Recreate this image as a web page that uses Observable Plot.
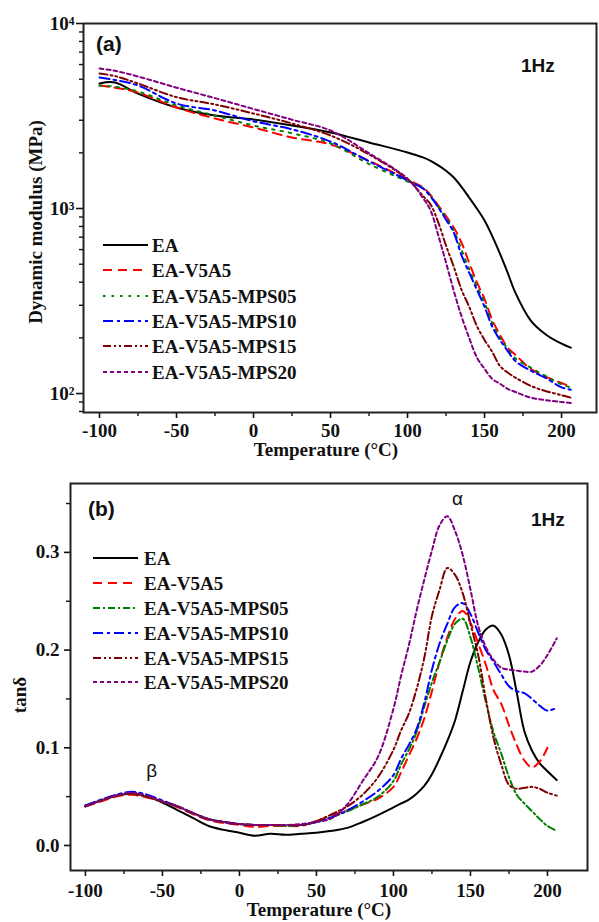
<!DOCTYPE html>
<html><head><meta charset="utf-8">
<script src="https://cdn.jsdelivr.net/npm/d3@7"></script>
<script src="https://cdn.jsdelivr.net/npm/@observablehq/plot@0.6"></script>
<style>
body{margin:0;background:#fff}
#wrap{position:relative;width:599px;height:922px;overflow:hidden;background:#fff}
#wrap > svg{position:absolute;left:0}
</style></head><body><div id="wrap"></div>
<script>
// ---------- series ----------
const seriesNames = ["EA","EA-V5A5","EA-V5A5-MPS05","EA-V5A5-MPS10","EA-V5A5-MPS15","EA-V5A5-MPS20"];
const seriesColors = ["#000000","#ff0000","#008000","#0000ff","#800000","#800080"];
const dashA = ["none","9,6","2.5,6","10,4,3,4","8,3,2,3,2,3","4,3"];
const dashB = ["none","9,6","7,3,2,3","10,4,3,4","8,3,2,3,2,3","4,3"];

// ---------- panel (a): dynamic modulus (MPa) ----------
const tempA = [-100,-90,-75,-50,-25,0,25,50,75,100,110,115,120,125,130,135,140,145,150,155,160,165,170,180,190,200,206];
const modEA     = [4740,4800,4180,3515,3180,3030,2810,2575,2275,2010,1890,1810,1710,1600,1470,1310,1147,1000,861,710,571,450,351,248,208,186,177];
const modV5A5   = [4623,4500,4236,3515,3066,2740,2420,2220,1810,1435,1300,1180,1038,910,789,655,510,400,325,250,208,177,162,136,123,114,109];
const modMPS05  = [4623,4550,4290,3610,3180,2810,2550,2250,1740,1400,1290,1170,1020,890,760,600,470,380,310,240,200,175,155,138,124,112,108];
const modMPS10  = [5107,4950,4623,3694,3385,2960,2680,2300,1800,1420,1283,1160,1012,870,742,560,450,365,295,230,195,170,150,133,121,108,105];
const modMPS15  = [5366,5200,4740,4000,3650,3262,2881,2481,1960,1440,1170,1050,840,630,485,365,295,232,195,168,141,130,122,110,103,98,95];
const modMPS20  = [5710,5550,5170,4500,3950,3450,3020,2640,1990,1450,1140,975,715,510,360,262,200,157,136,120,113,106,102,95,92,90,89];

// ---------- panel (b): tan delta ----------
const tempB = [-100,-90,-80,-70,-60,-50,-40,-30,-20,-10,0,10,20,30,40,50,60,70,80,90,100,105,110,115,120,125,130,135,140,145,150,155,160,165,170,175,180,185,190,195,200,206];
const tanEA    = [0.040,0.046,0.051,0.053,0.050,0.044,0.036,0.028,0.020,0.016,0.013,0.010,0.012,0.011,0.012,0.013,0.015,0.018,0.024,0.031,0.039,0.043,0.047,0.053,0.061,0.073,0.089,0.107,0.128,0.158,0.188,0.208,0.221,0.225,0.216,0.195,0.157,0.117,0.097,0.084,0.076,0.067];
const tanV5A5  = [0.040,0.045,0.050,0.052,0.049,0.045,0.039,0.032,0.026,0.023,0.021,0.019,0.020,0.020,0.020,0.025,0.031,0.036,0.042,0.048,0.060,0.075,0.092,0.109,0.130,0.158,0.188,0.213,0.232,0.240,0.228,0.207,0.185,0.159,0.145,0.123,0.103,0.087,0.080,0.086,0.100,null];
const tanMPS05 = [0.041,0.046,0.051,0.053,0.050,0.045,0.040,0.033,0.027,0.024,0.022,0.021,0.021,0.020,0.021,0.024,0.029,0.035,0.042,0.050,0.066,0.083,0.098,0.116,0.142,0.167,0.188,0.210,0.227,0.232,0.213,0.182,0.147,0.116,0.094,0.070,0.052,0.043,0.035,0.027,0.020,0.015];
const tanMPS10 = [0.041,0.047,0.052,0.055,0.052,0.046,0.040,0.033,0.027,0.024,0.022,0.021,0.021,0.021,0.021,0.024,0.029,0.036,0.045,0.056,0.072,0.089,0.103,0.119,0.146,0.180,0.207,0.227,0.244,0.248,0.237,0.218,0.200,0.188,0.175,0.163,0.158,0.156,0.150,0.143,0.138,0.141];
const tanMPS15 = [0.040,0.046,0.051,0.053,0.050,0.045,0.040,0.033,0.027,0.024,0.022,0.021,0.021,0.021,0.021,0.025,0.032,0.040,0.052,0.070,0.098,0.118,0.135,0.160,0.192,0.235,0.262,0.284,0.277,0.258,0.227,0.195,0.150,0.110,0.083,0.062,0.058,0.059,0.060,0.058,0.054,0.051];
const tanMPS20 = [0.040,0.046,0.051,0.054,0.051,0.045,0.040,0.033,0.027,0.024,0.022,0.021,0.021,0.021,0.022,0.024,0.028,0.042,0.066,0.091,0.140,0.174,0.205,0.240,0.272,0.302,0.328,0.337,0.322,0.297,0.262,0.225,0.203,0.190,0.182,0.180,0.179,0.178,0.178,0.184,0.195,0.212];

// ---------- ticks ----------
const xMajor = [-100,-50,0,50,100,150,200];
const xMinor = [-75,-25,25,75,125,175];
const yMajorA = [100,1000,10000];
const yLabelsA = ["10²","10³","10⁴"];
const yMinorA = [80,90,200,300,400,500,600,700,800,900,2000,3000,4000,5000,6000,7000,8000,9000];
const yMajorB = [0,0.1,0.2,0.3];
const yMinorB = [0.05,0.15,0.25,0.35];

// ---------- text ----------
const xTitle = "Temperature (°C)";
const yTitleA = "Dynamic modulus (MPa)";
const yTitleB = "tanδ";
const panelTags = ["(a)","(b)"];
const freqLabel = "1Hz";
const peakLabels = [{t:141.5, v:0.355, s:"α"},{t:-57, v:0.076, s:"β"}];

const modA = [modEA, modV5A5, modMPS05, modMPS10, modMPS15, modMPS20];
const tanB = [tanEA, tanV5A5, tanMPS05, tanMPS10, tanMPS15, tanMPS20];

const baseStyle = {fontFamily:"'Liberation Serif', 'Times New Roman', serif", fontSize:"19px", fontWeight:"bold", color:"#111", background:"#fff", overflow:"visible"};

const wrap = document.getElementById("wrap");

// Panel (a)
const plotA = Plot.plot({
  width: 599, height: 460,
  marginTop: 23, marginBottom: 48, marginLeft: 83, marginRight: 3,
  style: baseStyle,
  x: {domain: [-110.4, 222.7]},
  y: {type: "log", domain: [79, 10000]},
  marks: [
    ...seriesNames.map((n, i) => Plot.line(
      tempA.map((t, j) => ({t, v: modA[i][j]})),
      {x: "t", y: "v", stroke: seriesColors[i], strokeWidth: 2, strokeDasharray: dashA[i], curve: "catmull-rom"})),
    Plot.axisX({ticks: xMajor, tickSize: 6, tickPadding: 5, tickFormat: d => String(d), strokeWidth: 1.6, label: null}),
    Plot.axisX({ticks: xMinor, tickSize: 4, fill: "none", strokeWidth: 1.4, label: null}),
    Plot.axisY({ticks: yMajorA, tickSize: 7, tickPadding: 2, tickFormat: d => yLabelsA[yMajorA.indexOf(d)], strokeWidth: 1.6, label: null}),
    Plot.axisY({ticks: yMinorA, tickSize: 4, fill: "none", strokeWidth: 1.4, label: null}),
    Plot.frame({stroke: "#222", strokeWidth: 2})
  ]
});
plotA.style.top = "0px";
wrap.appendChild(plotA);

// Panel (b)
const plotB = Plot.plot({
  width: 599, height: 462,
  marginTop: 23, marginBottom: 52, marginLeft: 70, marginRight: 12,
  style: baseStyle,
  x: {domain: [-109.7, 226]},
  y: {domain: [-0.0256, 0.3705]},
  marks: [
    ...seriesNames.map((n, i) => Plot.line(
      tempB.map((t, j) => ({t, v: tanB[i][j]})),
      {x: "t", y: "v", stroke: seriesColors[i], strokeWidth: 2, strokeDasharray: dashB[i], curve: "catmull-rom"})),
    Plot.text(peakLabels, {x: "t", y: "v", text: "s", fontSize: 19, fontWeight: "normal", fontFamily: "'Liberation Sans', Arial, sans-serif", fill: "#111"}),
    Plot.axisX({ticks: xMajor, tickSize: 6, tickPadding: 7, tickFormat: d => String(d), strokeWidth: 1.6, label: null}),
    Plot.axisX({ticks: xMinor, tickSize: 4, fill: "none", strokeWidth: 1.4, label: null}),
    Plot.axisY({ticks: yMajorB, tickSize: 6, tickPadding: 5, tickFormat: d => d.toFixed(1), strokeWidth: 1.6, label: null}),
    Plot.axisY({ticks: yMinorB, tickSize: 4, fill: "none", strokeWidth: 1.4, label: null}),
    Plot.frame({stroke: "#222", strokeWidth: 2})
  ]
});
plotB.style.top = "460px";
wrap.appendChild(plotB);

// Overlay: titles, tags and legends
const ov = d3.select(wrap).append("svg")
  .attr("width", 599).attr("height", 922)
  .style("top", "0px").style("pointer-events", "none");
const serif = "'Liberation Serif', 'Times New Roman', serif";
const sans = "'Liberation Sans', Arial, sans-serif";

function txt(x, y, s, opts = {}) {
  const t = ov.append("text").attr("x", x).attr("y", y).text(s)
    .attr("font-family", opts.family || serif)
    .attr("font-size", opts.size || 19)
    .attr("font-weight", "bold")
    .attr("fill", "#111")
    .attr("text-anchor", opts.anchor || "start");
  if (opts.rotate) t.attr("transform", `rotate(-90 ${x} ${y})`);
  if (opts.mid) t.attr("dominant-baseline", "central");
  return t;
}

// axis titles
txt(326, 456, xTitle, {anchor: "middle"});
txt(319, 916, xTitle, {anchor: "middle"});
txt(35, 222, yTitleA, {anchor: "middle", rotate: true, mid: true});
txt(19, 695, yTitleB, {anchor: "middle", rotate: true, mid: true});

// panel tags and frequency
txt(96, 51, panelTags[0], {family: sans, size: 21});
txt(88, 516, panelTags[1], {family: sans, size: 21});
txt(521, 72, freqLabel, {family: sans, size: 19});
txt(531, 526, freqLabel, {family: sans, size: 19});

// legends
function legend(x0, x1, tx, ys, dashes) {
  seriesNames.forEach((n, i) => {
    ov.append("line").attr("x1", x0).attr("x2", x1).attr("y1", ys[i]).attr("y2", ys[i])
      .attr("stroke", seriesColors[i]).attr("stroke-width", 2.2)
      .attr("stroke-dasharray", dashes[i] === "none" ? null : dashes[i]);
    txt(tx, ys[i], n, {mid: true, size: 19});
  });
}
legend(103, 148, 152, [245, 270, 296, 321, 346, 372], dashA);
legend(93, 138, 144, [558, 583, 608, 633, 658, 682], dashB);
</script></body></html>
